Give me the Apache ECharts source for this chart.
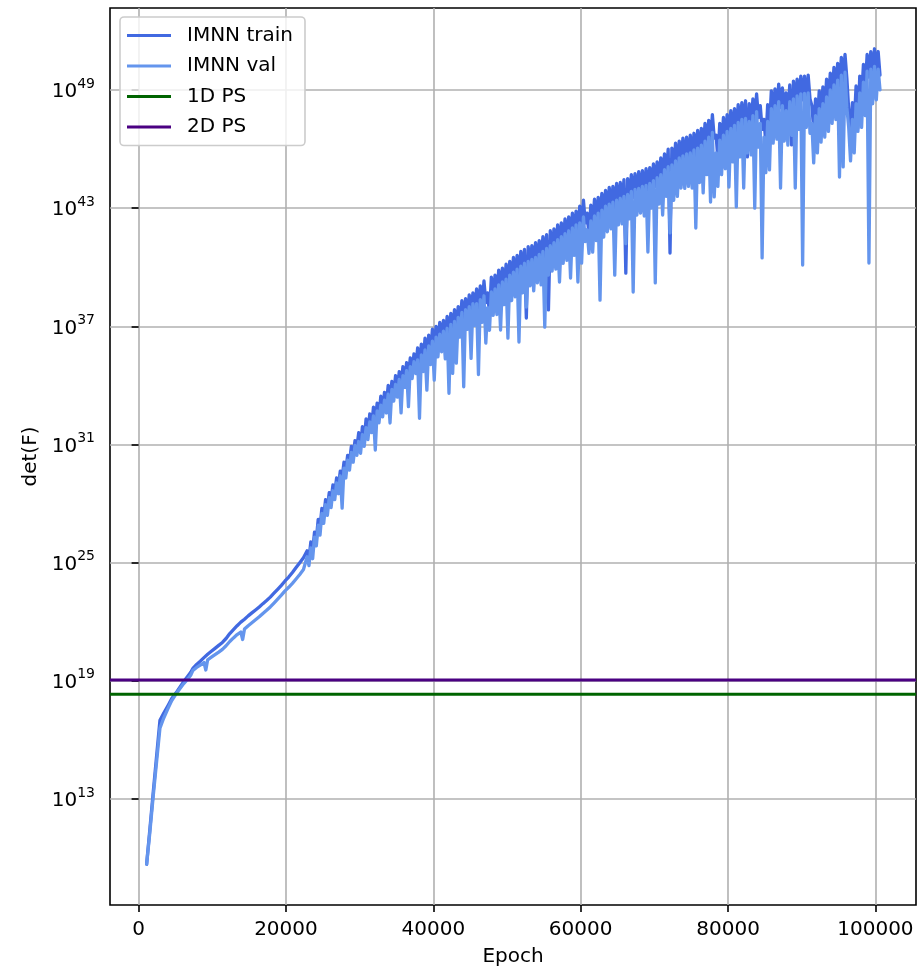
<!DOCTYPE html>
<html>
<head>
<meta charset="utf-8">
<script src="https://cdn.jsdelivr.net/npm/echarts@6/dist/echarts.min.js"></script>
<style>
  html, body { margin: 0; padding: 0; background: #ffffff; }
  #chart { width: 917px; height: 967px; }
</style>
</head>
<body>
<div id="chart"></div>
<script>
// det(F) of the IMNN Fisher matrix during training, stored as log10(det F).

// Very first epochs, smooth rise
const earlyEpochs = [1090, 1500, 2000, 2500, 2900, 3400, 4000, 4500, 5200, 6000, 6700, 7100];
const earlyTrainLog = [9.69, 11.35, 13.4, 15.4, 17.0, 17.35, 17.75, 18.1, 18.45, 18.9, 19.25, 19.45];
const earlyValLog = [9.69, 11.2, 13.2, 15.1, 16.6, 17.1, 17.6, 18.0, 18.4, 18.8, 19.1, 19.3];

// From epoch 7500 on: for every 500-epoch bin the highest and lowest value are kept
const binEpochs = [
  7500, 8000, 8500, 9000, 9500, 10000, 10500, 11000, 11500, 12000,
  12500, 13000, 13500, 14000, 14500, 15000, 15500, 16000, 16500, 17000,
  17500, 18000, 18500, 19000, 19500, 20000, 20500, 21000, 21500, 22000,
  22500,
  23000, 23500, 24000, 24500, 25000, 25500, 26000, 26500, 27000, 27500,
  28000, 28500, 29000, 29500, 30000, 30500, 31000, 31500, 32000, 32500,
  33000, 33500, 34000, 34500, 35000, 35500, 36000, 36500, 37000, 37500,
  38000, 38500, 39000, 39500, 40000, 40500, 41000, 41500, 42000, 42500,
  43000, 43500, 44000, 44500, 45000, 45500, 46000, 46500, 47000, 47500,
  48000, 48500, 49000, 49500, 50000, 50500, 51000, 51500, 52000, 52500,
  53000, 53500, 54000, 54500, 55000, 55500, 56000, 56500, 57000, 57500,
  58000, 58500, 59000, 59500, 60000, 60500, 61000, 61500, 62000, 62500,
  63000, 63500, 64000, 64500, 65000, 65500, 66000, 66500, 67000, 67500,
  68000, 68500, 69000, 69500, 70000, 70500, 71000, 71500, 72000, 72500,
  73000, 73500, 74000, 74500, 75000, 75500, 76000, 76500, 77000, 77500,
  78000, 78500, 79000, 79500, 80000, 80500, 81000, 81500, 82000, 82500,
  83000, 83500, 84000, 84500, 85000, 85500, 86000, 86500, 87000, 87500,
  88000, 88500, 89000, 89500, 90000, 90500, 91000, 91500, 92000, 92500,
  93000, 93500, 94000, 94500, 95000, 95500, 96000, 96500, 97000, 97500,
  98000, 98500, 99000, 99500, 100000, 100500];

const trainHiLog = [
  19.63, 19.83, 20.0, 20.18, 20.35, 20.5, 20.65, 20.8, 20.95, 21.15,
  21.4, 21.6, 21.8, 21.98, 22.13, 22.3, 22.45, 22.6, 22.75, 22.92,
  23.08, 23.25, 23.45, 23.65, 23.85, 24.07, 24.27, 24.5, 24.75, 25.0,
  25.25,
  25.6, 26.05, 26.55, 27.2, 27.75, 28.2, 28.55, 28.95, 29.3, 29.65,
  30.1, 30.45, 30.9, 31.2, 31.6, 31.9, 32.3, 32.55, 32.9, 33.1,
  33.45, 33.65, 34.0, 34.2, 34.5, 34.7, 34.95, 35.15, 35.4, 35.6,
  35.9, 36.1, 36.4, 36.55, 36.85, 37.0, 37.2, 37.3, 37.5, 37.65,
  37.85, 38.0, 38.3, 38.4, 38.6, 38.7, 38.9, 39.05, 39.3, 38.7,
  39.5, 39.6, 39.85, 39.95, 40.15, 40.3, 40.5, 40.6, 40.8, 40.9,
  41.05, 41.1, 41.25, 41.35, 41.55, 41.65, 41.85, 41.95, 42.15, 42.25,
  42.45, 42.55, 42.75, 42.85, 43.1, 43.4, 42.75, 43.15, 43.45, 43.55,
  43.75, 43.9, 44.05, 44.1, 44.25, 44.3, 44.45, 44.5, 44.7, 44.75,
  44.85, 44.9, 45.0, 45.05, 45.25, 45.35, 45.55, 45.75, 46.0, 46.05,
  46.3, 46.4, 46.55, 46.6, 46.7, 46.8, 46.95, 47.05, 47.3, 47.45,
  47.75, 46.7, 47.3, 47.6, 47.75, 47.95, 48.05, 48.25, 48.35, 48.45,
  48.3, 48.55, 48.8, 48.2, 47.5, 48.25, 48.95, 49.05, 49.3, 49.1,
  48.85, 49.25, 49.45, 49.55, 49.7, 49.7, 49.75, 48.2, 48.55, 48.95,
  49.15, 49.55, 49.85, 50.15, 50.35, 50.65, 50.8, 48.0, 48.35, 49.2,
  49.7, 50.3, 50.8, 50.95, 51.09, 50.95];

const trainLoLog = [
  19.53, 19.73, 19.9, 20.08, 20.25, 20.4, 20.55, 20.7, 20.85, 21.05,
  21.3, 21.5, 21.7, 21.88, 22.03, 22.2, 22.35, 22.5, 22.65, 22.82,
  22.98, 23.15, 23.35, 23.55, 23.75, 23.97, 24.17, 24.4, 24.65, 24.9,
  25.15,
  25.2, 25.6, 26.2, 26.8, 27.35, 27.8, 28.2, 28.55, 28.9, 29.3,
  29.7, 30.1, 30.5, 30.85, 30.9, 31.25, 31.6, 31.9, 32.2, 32.45,
  32.75, 33.0, 33.3, 33.55, 33.8, 34.05, 34.25, 34.5, 34.7, 34.95,
  34.95, 35.2, 35.45, 35.65, 35.9, 36.1, 36.25, 36.4, 36.55, 36.75,
  36.9, 37.1, 37.35, 37.5, 37.65, 37.8, 37.8, 38.0, 38.2, 37.6,
  38.4, 38.55, 38.75, 38.9, 39.05, 39.25, 39.4, 39.55, 39.7, 37.42,
  39.95, 40.05, 40.15, 40.3, 40.45, 37.83, 40.75, 40.9, 41.05, 41.2,
  41.35, 41.5, 41.65, 41.8, 41.95, 42.25, 41.6, 42.05, 42.3, 42.45,
  42.6, 42.8, 42.9, 43.0, 43.1, 43.2, 39.7, 43.4, 43.55, 43.65,
  43.7, 43.8, 43.85, 43.95, 44.1, 44.25, 44.4, 44.65, 40.72, 44.9,
  45.1, 45.25, 45.35, 45.45, 45.5, 45.65, 45.75, 45.9, 46.1, 46.3,
  46.55, 45.5, 46.15, 46.4, 46.6, 46.75, 46.9, 47.05, 47.2, 45.6,
  47.1, 47.4, 47.6, 47.0, 46.3, 47.1, 47.75, 47.9, 48.1, 47.9,
  47.65, 46.21, 48.25, 48.4, 48.5, 48.52, 48.55, 47.0, 47.4, 47.75,
  48.0, 48.35, 48.7, 48.95, 49.2, 49.45, 49.6, 46.8, 47.2, 47.07,
  48.55, 49.1, 49.65, 49.75, 49.9, 49.75];

const valHiLog = [
  19.53, 19.68, 19.8, 19.93, 20.07, 20.2, 20.33, 20.46, 20.6, 20.78,
  21.0, 21.18, 21.35, 21.48, 21.63, 21.8, 21.95, 22.1, 22.25, 22.42,
  22.58, 22.75, 22.95, 23.15, 23.35, 23.57, 23.75, 23.95, 24.17, 24.4,
  24.65,
  25.3, 25.75, 26.3, 26.9, 27.5, 27.95, 28.3, 28.65, 29.05, 29.4,
  29.8, 30.2, 30.6, 30.95, 31.15, 31.5, 31.85, 32.15, 32.45, 32.7,
  33.0, 33.25, 33.55, 33.8, 34.05, 34.3, 34.5, 34.75, 34.95, 35.2,
  35.3, 35.55, 35.8, 36.0, 36.25, 36.45, 36.6, 36.75, 36.9, 37.1,
  37.25, 37.45, 37.7, 37.85, 38.0, 38.15, 38.15, 38.35, 38.55, 37.95,
  38.75, 38.9, 39.1, 39.25, 39.4, 39.6, 39.75, 39.9, 40.05, 40.2,
  40.3, 40.4, 40.5, 40.65, 40.8, 40.95, 41.1, 41.25, 41.4, 41.55,
  41.7, 41.85, 42.0, 42.15, 42.25, 42.55, 41.9, 42.35, 42.6, 42.75,
  42.9, 43.1, 43.2, 43.3, 43.4, 43.5, 43.6, 43.7, 43.85, 43.95,
  44.0, 44.1, 44.15, 44.25, 44.4, 44.55, 44.7, 44.95, 45.1, 45.2,
  45.4, 45.55, 45.65, 45.75, 45.8, 45.95, 46.05, 46.2, 46.4, 46.6,
  46.85, 45.8, 46.45, 46.7, 46.9, 47.05, 47.2, 47.35, 47.5, 47.55,
  47.4, 47.7, 47.9, 47.3, 46.6, 47.4, 48.05, 48.2, 48.4, 48.2,
  47.95, 48.4, 48.55, 48.7, 48.8, 48.82, 48.85, 47.3, 47.7, 48.05,
  48.3, 48.65, 49.0, 49.25, 49.5, 49.75, 49.9, 47.1, 47.5, 48.3,
  48.85, 49.4, 49.95, 50.05, 50.2, 50.05];

const valLoLog = [
  19.43, 19.58, 19.7, 19.55, 19.97, 20.1, 20.23, 20.36, 20.5, 20.68,
  20.9, 21.08, 21.25, 21.1, 21.53, 21.7, 21.85, 22.0, 22.15, 22.32,
  22.48, 22.65, 22.85, 23.05, 23.25, 23.47, 23.65, 23.85, 24.07, 24.3,
  24.55,
  24.85, 25.2, 25.85, 26.4, 27.0, 27.4, 27.8, 28.2, 28.5, 27.77,
  29.3, 29.7, 30.1, 30.45, 30.55, 30.9, 31.25, 31.6, 30.72, 32.1,
  32.4, 32.6, 32.09, 33.2, 33.4, 32.6, 33.9, 32.92, 34.35, 34.6,
  32.33, 34.7, 33.76, 35.05, 34.27, 35.45, 35.7, 35.35, 33.6, 34.61,
  35.13, 36.45, 33.93, 36.85, 35.37, 37.05, 34.55, 37.2, 36.15, 36.8,
  37.55, 37.6, 36.81, 38.1, 36.4, 38.3, 38.5, 36.2, 38.7, 37.98,
  39.05, 38.8, 39.2, 39.1, 36.96, 39.6, 39.8, 39.9, 39.25, 40.2,
  40.35, 39.45, 40.6, 39.25, 40.21, 41.3, 40.7, 40.77, 41.35, 38.33,
  41.53, 41.8, 41.95, 39.6, 42.15, 42.2, 41.2, 42.45, 38.74, 42.65,
  42.75, 42.6, 40.77, 43.0, 39.2, 43.2, 42.65, 43.6, 41.74, 43.4,
  43.6, 44.02, 44.0, 44.1, 44.02, 41.99, 44.3, 43.77, 44.7, 43.31,
  43.57, 44.1, 44.7, 45.0, 44.07, 45.35, 43.06, 45.6, 44.02, 45.8,
  45.7, 43.0, 46.1, 40.47, 44.8, 44.94, 46.3, 46.5, 44.02, 46.4,
  46.2, 46.7, 44.02, 47.0, 40.11, 47.1, 46.8, 45.3, 45.8, 46.35,
  46.6, 46.9, 47.3, 47.5, 44.58, 45.09, 48.1, 45.4, 45.8, 46.9,
  47.1, 47.7, 40.21, 48.3, 48.5, 49.0];

// Power-spectrum reference levels, log10(det F)
const ps1dLog = 18.32;
const ps2dLog = 19.04;

// Axis ticks
const xTicks = [0, 20000, 40000, 60000, 80000, 100000];
const yTickExps = [13, 19, 25, 31, 37, 43, 49];

const seriesNames = ['IMNN train', 'IMNN val', '1D PS', '2D PS'];
const seriesColors = ['#4169E1', '#6495ED', '#006400', '#4B0082'];

const xMin = -3880, xMax = 105510;
const yMin = 7.62, yMax = 53.16;
const FONT = 'DejaVu Sans';

// Each bin contributes its maximum then its minimum, so the noisy band is filled.
function buildPoints(early, hi, lo) {
  const pts = earlyEpochs.map((e, i) => [e, early[i]]);
  binEpochs.forEach((e, i) => {
    pts.push([e - 125, hi[i]]);
    pts.push([e + 125, lo[i]]);
  });
  return pts;
}

const lineCommon = {
  type: 'line',
  symbol: 'none',
  showSymbol: false,
  animation: false,
  silent: true
};

const chart = echarts.init(document.getElementById('chart'), null, { renderer: 'canvas' });

chart.setOption({
  animation: false,
  backgroundColor: '#ffffff',
  grid: {
    left: 110, right: 1, top: 8, bottom: 62,
    show: true, borderColor: '#000000', borderWidth: 1.6,
    containLabel: false, outerBoundsMode: 'none'
  },
  legend: {
    orient: 'vertical',
    left: 120, top: 17,
    padding: [8, 12, 8, 7],
    itemWidth: 44, itemHeight: 3, itemGap: 9.5,
    icon: 'rect',
    backgroundColor: 'rgba(255,255,255,0.8)',
    borderColor: '#cccccc', borderWidth: 1.6, borderRadius: 4,
    textStyle: { fontFamily: FONT, fontSize: 20, color: '#000000', lineHeight: 21, padding: [0, 0, 0, 11] },
    data: seriesNames
  },
  xAxis: {
    type: 'value', min: xMin, max: xMax,
    axisLine: { show: false },
    axisTick: { show: true, customValues: xTicks, length: 7, lineStyle: { color: '#000000', width: 1.6 } },
    axisLabel: {
      customValues: xTicks, margin: 15,
      fontFamily: FONT, fontSize: 20, color: '#000000',
      formatter: v => String(v)
    },
    splitLine: { show: true, lineStyle: { color: '#b0b0b0', width: 1.6 } },
    name: 'Epoch', nameLocation: 'middle', nameGap: 42,
    nameTextStyle: { fontFamily: FONT, fontSize: 20, color: '#000000' }
  },
  yAxis: {
    type: 'value', min: yMin, max: yMax,
    axisLine: { show: false },
    axisTick: { show: true, customValues: yTickExps, length: 7, lineStyle: { color: '#000000', width: 1.6 } },
    axisLabel: {
      customValues: yTickExps, margin: 15,
      formatter: v => '{b|10}{s|' + v + '}',
      rich: {
        b: { fontFamily: FONT, fontSize: 20, color: '#000000', lineHeight: 26, padding: [4, 0, 0, 0], verticalAlign: 'middle' },
        s: { fontFamily: FONT, fontSize: 14, color: '#000000', lineHeight: 14, verticalAlign: 'top' }
      }
    },
    splitLine: { show: true, lineStyle: { color: '#b0b0b0', width: 1.6 } },
    name: 'det(F)', nameLocation: 'middle', nameGap: 68, nameRotate: 90,
    nameTextStyle: { fontFamily: FONT, fontSize: 20, color: '#000000' }
  },
  series: [
    Object.assign({}, lineCommon, {
      name: seriesNames[0], color: seriesColors[0],
      lineStyle: { width: 3.3, color: seriesColors[0], join: 'round', cap: 'round' },
      data: buildPoints(earlyTrainLog, trainHiLog, trainLoLog)
    }),
    Object.assign({}, lineCommon, {
      name: seriesNames[1], color: seriesColors[1],
      lineStyle: { width: 3.3, color: seriesColors[1], join: 'round', cap: 'round' },
      data: buildPoints(earlyValLog, valHiLog, valLoLog)
    }),
    Object.assign({}, lineCommon, {
      name: seriesNames[2], color: seriesColors[2],
      lineStyle: { width: 3, color: seriesColors[2] },
      data: [[xMin, ps1dLog], [xMax, ps1dLog]]
    }),
    Object.assign({}, lineCommon, {
      name: seriesNames[3], color: seriesColors[3],
      lineStyle: { width: 3, color: seriesColors[3] },
      data: [[xMin, ps2dLog], [xMax, ps2dLog]]
    })
  ]
});
</script>
</body>
</html>
